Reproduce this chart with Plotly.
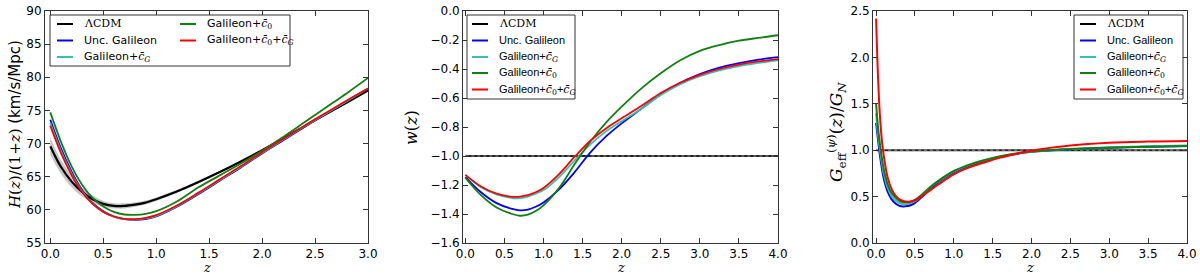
import plotly.graph_objects as go

# ---------------- data ----------------
# Panel 1: H(z)/(1+z)
Z_H = [0.0, 0.1, 0.2, 0.3, 0.4, 0.5, 0.6, 0.7, 0.8, 0.9, 1.0, 1.2, 1.4, 1.6, 1.8, 2.0, 2.2, 2.4, 2.6, 2.8, 3.0]
H_LCDM = [69.6, 66.5, 64.3, 62.7, 61.6, 60.9, 60.6, 60.6, 60.8, 61.1, 61.6, 62.8, 64.2, 65.7, 67.3, 69.0, 70.8, 72.6, 74.4, 76.2, 78.0]
H_LCDM_ERR = [1.3, 1.05, 0.85, 0.7, 0.55, 0.45, 0.4, 0.38, 0.35, 0.3, 0.27, 0.22, 0.18, 0.15, 0.12, 0.1, 0.1, 0.1, 0.1, 0.1, 0.1]
H_UNC = [73.6, 69.3, 65.8, 63.0, 61.0, 59.8, 59.0, 58.6, 58.5, 58.6, 59.0, 60.5, 62.4, 64.4, 66.4, 68.5, 70.5, 72.5, 74.5, 76.4, 78.3]
H_CG = [73.1, 68.9, 65.5, 62.8, 60.9, 59.7, 58.95, 58.6, 58.55, 58.7, 59.1, 60.6, 62.5, 64.5, 66.5, 68.6, 70.6, 72.6, 74.5, 76.4, 78.3]
H_C0 = [74.7, 70.3, 66.6, 63.8, 61.8, 60.5, 59.7, 59.3, 59.25, 59.4, 59.8, 61.3, 63.4, 65.2, 67.0, 68.9, 71.0, 73.2, 75.4, 77.6, 79.9]
H_C0CG = [72.7, 68.6, 65.3, 62.7, 60.9, 59.7, 59.0, 58.65, 58.6, 58.8, 59.2, 60.7, 62.6, 64.6, 66.6, 68.7, 70.7, 72.7, 74.6, 76.5, 78.3]

# Panel 2: w(z)
Z_W = [0.0, 0.2, 0.4, 0.6, 0.7, 0.8, 0.9, 1.0, 1.2, 1.4, 1.6, 1.8, 2.0, 2.25, 2.5, 2.75, 3.0, 3.25, 3.5, 3.75, 4.0]
Z_W_LCDM = [0.0, 4.0]
W_LCDM = [-1.0, -1.0]
W_UNC = [-1.145, -1.25, -1.325, -1.365, -1.375, -1.37, -1.35, -1.32, -1.23, -1.11, -0.975, -0.865, -0.775, -0.675, -0.575, -0.495, -0.435, -0.39, -0.36, -0.335, -0.318]
W_CG = [-1.13, -1.215, -1.265, -1.29, -1.29, -1.28, -1.26, -1.235, -1.145, -1.03, -0.92, -0.83, -0.76, -0.675, -0.58, -0.505, -0.45, -0.41, -0.38, -0.358, -0.34]
W_C0 = [-1.15, -1.27, -1.355, -1.40, -1.412, -1.405, -1.38, -1.34, -1.22, -1.055, -0.90, -0.77, -0.66, -0.535, -0.43, -0.34, -0.275, -0.235, -0.205, -0.185, -0.167]
W_C0CG = [-1.13, -1.21, -1.26, -1.282, -1.28, -1.27, -1.25, -1.22, -1.125, -1.005, -0.895, -0.81, -0.74, -0.655, -0.565, -0.495, -0.44, -0.40, -0.37, -0.348, -0.332]

# Panel 3: G_eff/G_N
Z_G = [0.0, 0.025, 0.05, 0.075, 0.1, 0.15, 0.2, 0.25, 0.3, 0.35, 0.4, 0.45, 0.5, 0.6, 0.7, 0.8, 1.0, 1.2, 1.4, 1.6, 1.8, 2.0, 2.5, 3.0, 3.5, 4.0]
Z_G_LCDM = [0.0, 4.0]
G_LCDM = [1.0, 1.0]
G_UNC = [1.295, 1.11, 0.94, 0.80, 0.69, 0.55, 0.47, 0.425, 0.40, 0.394, 0.398, 0.41, 0.432, 0.505, 0.585, 0.655, 0.76, 0.835, 0.885, 0.93, 0.96, 0.982, 1.01, 1.027, 1.038, 1.046]
G_CG = [1.40, 1.17, 1.0, 0.855, 0.74, 0.59, 0.505, 0.457, 0.43, 0.418, 0.42, 0.432, 0.45, 0.52, 0.60, 0.665, 0.77, 0.842, 0.892, 0.933, 0.963, 0.984, 1.012, 1.03, 1.042, 1.05]
G_C0 = [1.50, 1.24, 1.06, 0.91, 0.79, 0.63, 0.54, 0.49, 0.455, 0.44, 0.44, 0.448, 0.465, 0.53, 0.605, 0.67, 0.776, 0.845, 0.895, 0.935, 0.965, 0.985, 1.012, 1.027, 1.037, 1.044]
G_C0CG = [2.42, 1.78, 1.36, 1.10, 0.93, 0.70, 0.58, 0.51, 0.47, 0.452, 0.445, 0.448, 0.46, 0.51, 0.57, 0.63, 0.74, 0.815, 0.87, 0.92, 0.96, 0.995, 1.05, 1.08, 1.093, 1.10]

SERIES = ["ΛCDM", "Unc. Galileon", "Galileon+c̄G", "Galileon+c̄0", "Galileon+c̄0+c̄G"]
COLORS = ["#000000", "#0000ff", "#2ec4b0", "#108010", "#ff0000"]

# ---------------- figure ----------------
W, H = 1200, 276
fig = go.Figure()
LW = 1.8


def line(x, y, color, name, xa, ya, width=LW, dash=None, shape="spline"):
    fig.add_trace(go.Scatter(x=x, y=y, mode="lines", name=name, showlegend=False,
                             line=dict(color=color, width=width, shape=shape, smoothing=1.0, dash=dash),
                             xaxis=xa, yaxis=ya, hoverinfo="skip"))


# panel 1
upper = [v + e for v, e in zip(H_LCDM, H_LCDM_ERR)]
lower = [v - e for v, e in zip(H_LCDM, H_LCDM_ERR)]
fig.add_trace(go.Scatter(x=Z_H, y=upper, mode="lines", line=dict(width=0, shape="spline"),
                         showlegend=False, xaxis="x", yaxis="y", hoverinfo="skip"))
fig.add_trace(go.Scatter(x=Z_H, y=lower, mode="lines", line=dict(width=0, shape="spline"),
                         fill="tonexty", fillcolor="rgba(110,110,110,0.40)",
                         showlegend=False, xaxis="x", yaxis="y", hoverinfo="skip"))
line(Z_H, H_LCDM, COLORS[0], SERIES[0], "x", "y", width=2.2)
for ys, c, n in zip([H_UNC, H_CG, H_C0, H_C0CG], COLORS[1:], SERIES[1:]):
    line(Z_H, ys, c, n, "x", "y")

# panel 2
line(Z_W_LCDM, W_LCDM, "#222222", SERIES[0], "x2", "y2", width=2.0, shape="linear")
line(Z_W_LCDM, W_LCDM, "#dddddd", SERIES[0], "x2", "y2", width=0.6, dash="dot", shape="linear")
for ys, c, n in zip([W_UNC, W_CG, W_C0, W_C0CG], COLORS[1:], SERIES[1:]):
    line(Z_W, ys, c, n, "x2", "y2")

# panel 3
line(Z_G_LCDM, G_LCDM, "#222222", SERIES[0], "x3", "y3", width=2.0, shape="linear")
line(Z_G_LCDM, G_LCDM, "#dddddd", SERIES[0], "x3", "y3", width=0.6, dash="dot", shape="linear")
for ys, c, n in zip([G_UNC, G_CG, G_C0, G_C0CG], COLORS[1:], SERIES[1:]):
    line(Z_G, ys, c, n, "x3", "y3", width=2.0)


def px(x):
    return x / W


def py(y):
    return 1 - y / H


top, bottom = 11, 243
ydom = [py(bottom), py(top)]
axis_common = dict(ticks="inside", ticklen=5, tickwidth=1, tickcolor="#333", showline=True,
                   linecolor="#333", linewidth=1, mirror="ticks", showgrid=False, zeroline=False,
                   tickfont=dict(family="DejaVu Sans", size=12, color="black"), automargin=False)

fig.update_layout(
    width=W, height=H, margin=dict(l=0, r=0, t=0, b=0),
    paper_bgcolor="white", plot_bgcolor="white", showlegend=False,
    xaxis=dict(domain=[px(45), px(368)], range=[-0.05, 3.0], dtick=0.5, tickformat=".1f", anchor="y", **axis_common),
    yaxis=dict(domain=ydom, range=[55, 90], dtick=5, anchor="x", **axis_common),
    xaxis2=dict(domain=[px(463), px(778)], range=[-0.03, 4.0], dtick=0.5, tickformat=".1f", anchor="y2", **axis_common),
    yaxis2=dict(domain=ydom, range=[-1.6, 0.0], dtick=0.2, tickformat=".1f", anchor="x2", **axis_common),
    xaxis3=dict(domain=[px(873), px(1187)], range=[-0.04, 4.0], dtick=0.5, tickformat=".1f", anchor="y3", **axis_common),
    yaxis3=dict(domain=ydom, range=[0.0, 2.5], dtick=0.5, tickformat=".1f", anchor="x3", **axis_common),
)

SERIF = "font-family:DejaVu Serif"
LEG_TEXT = [
    f"<span style='{SERIF}'>ΛCDM</span>",
    "Unc. Galileon",
    f"Galileon+<span style='{SERIF}'><i>c̄</i><sub><i>G</i></sub></span>",
    f"Galileon+<span style='{SERIF}'><i>c̄</i><sub>0</sub></span>",
    f"Galileon+<span style='{SERIF}'><i>c̄</i><sub>0</sub></span>+<span style='{SERIF}'><i>c̄</i><sub><i>G</i></sub></span>",
]

shapes = []
annotations = []


def legend_box(x0, y0, x1, y1):
    shapes.append(dict(type="rect", xref="paper", yref="paper", x0=px(x0), x1=px(x1), y0=py(y1), y1=py(y0),
                       line=dict(color="#333", width=1), fillcolor="white", layer="above"))


def legend_item(xs, y, idx, family):
    shapes.append(dict(type="line", xref="paper", yref="paper", x0=px(xs), x1=px(xs + 16), y0=py(y), y1=py(y),
                       line=dict(color=COLORS[idx], width=2), layer="above"))
    annotations.append(dict(xref="paper", yref="paper", x=px(xs + 25), y=py(y), xanchor="left", yanchor="middle",
                            text=LEG_TEXT[idx], showarrow=False,
                            font=dict(family=family, size=11, color="black")))


# panel 1 legend (two columns)
legend_box(50, 15, 290, 66)
for i, yy in zip([0, 1, 2], [24, 40.5, 57]):
    legend_item(57, yy, i, "DejaVu Sans")
for i, yy in zip([3, 4], [24, 40.5]):
    legend_item(180, yy, i, "DejaVu Sans")

# panel 2 legend
legend_box(467, 15, 575, 99)
for i, yy in zip(range(5), [24, 40.5, 57, 73, 89.5]):
    legend_item(472, yy, i, "Liberation Sans")

# panel 3 legend
legend_box(1074, 15, 1183, 99)
for i, yy in zip(range(5), [24, 40.5, 57, 73, 89.5]):
    legend_item(1080, yy, i, "Liberation Sans")

# axis titles
zlabel = "<i>z</i>"
for xc in [206.5, 620.5, 1030]:
    annotations.append(dict(xref="paper", yref="paper", x=px(xc), y=0, text=zlabel, showarrow=False, borderpad=0,
                            xanchor="center", yanchor="bottom", font=dict(family="DejaVu Serif", size=13, color="black")))

annotations.append(dict(xref="paper", yref="paper", x=px(15), y=py(125), textangle=-90, showarrow=False,
                        xanchor="center", yanchor="middle",
                        text=f"<span style='{SERIF}'><i>H</i>(<i>z</i>)/(1+<i>z</i>)</span> (km/s/Mpc)",
                        font=dict(family="DejaVu Sans", size=15, color="black")))
annotations.append(dict(xref="paper", yref="paper", x=px(411), y=py(128), textangle=-90, showarrow=False,
                        xanchor="center", yanchor="middle",
                        text="<i>w</i>(<i>z</i>)",
                        font=dict(family="DejaVu Serif", size=16, color="black")))
annotations.append(dict(xref="paper", yref="paper", x=px(836), y=py(132), textangle=-90, showarrow=False,
                        xanchor="center", yanchor="middle",
                        text="<i>G</i><sub>eff</sub><sup>(<i>ψ</i>)</sup>(<i>z</i>)/<i>G</i><sub><i>N</i></sub>",
                        font=dict(family="DejaVu Serif", size=17, color="black")))

fig.update_layout(shapes=shapes, annotations=annotations)
fig.write_html("out.html", config={"displayModeBar": False},
               post_script="document.body.style.margin='0';document.body.style.overflow='hidden';")
